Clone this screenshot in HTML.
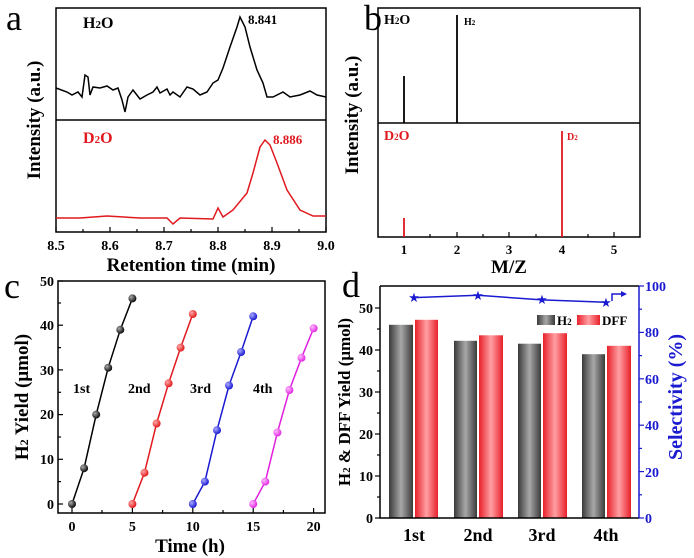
<!DOCTYPE html>
<html><head><meta charset="utf-8"><style>
html,body{margin:0;padding:0;background:#fff;}
svg{display:block;font-family:"Liberation Serif",serif;font-weight:bold;}
</style></head><body>
<svg width="694" height="558" viewBox="0 0 694 558" xmlns="http://www.w3.org/2000/svg">
<defs>
<linearGradient id="gg" x1="0" x2="1" y1="0" y2="0"><stop offset="0" stop-color="#3a3a3a"/><stop offset="0.5" stop-color="#a8a8a8"/><stop offset="1" stop-color="#3a3a3a"/></linearGradient>
<linearGradient id="rg" x1="0" x2="1" y1="0" y2="0"><stop offset="0" stop-color="#e8202a"/><stop offset="0.5" stop-color="#ffa0a4"/><stop offset="1" stop-color="#e8202a"/></linearGradient>
<radialGradient id="bk" cx="0.35" cy="0.35" r="0.7"><stop offset="0" stop-color="#aaa"/><stop offset="1" stop-color="#000"/></radialGradient>
<radialGradient id="rd" cx="0.35" cy="0.35" r="0.7"><stop offset="0" stop-color="#ffaaaa"/><stop offset="1" stop-color="#e01010"/></radialGradient>
<radialGradient id="bl" cx="0.35" cy="0.35" r="0.7"><stop offset="0" stop-color="#aaaaff"/><stop offset="1" stop-color="#1010d0"/></radialGradient>
<radialGradient id="mg" cx="0.35" cy="0.35" r="0.7"><stop offset="0" stop-color="#ffbbff"/><stop offset="1" stop-color="#e020e0"/></radialGradient>
</defs>

<!-- Panel a -->
<text x="6" y="30" font-size="36" font-weight="normal">a</text>
<rect x="56" y="8" width="270" height="224" fill="none" stroke="#000" stroke-width="1.5"/>
<line x1="56" y1="120" x2="326" y2="120" stroke="#000" stroke-width="1.5"/>
<g stroke="#000" stroke-width="1.2">
<line x1="56" y1="232" x2="56" y2="227"/><line x1="110" y1="232" x2="110" y2="227"/><line x1="164" y1="232" x2="164" y2="227"/><line x1="218" y1="232" x2="218" y2="227"/><line x1="272" y1="232" x2="272" y2="227"/><line x1="326" y1="232" x2="326" y2="227"/>
<line x1="83" y1="232" x2="83" y2="229"/><line x1="137" y1="232" x2="137" y2="229"/><line x1="191" y1="232" x2="191" y2="229"/><line x1="245" y1="232" x2="245" y2="229"/><line x1="299" y1="232" x2="299" y2="229"/>
</g>
<g font-size="14" text-anchor="middle">
<text x="56" y="250">8.5</text><text x="110" y="250">8.6</text><text x="164" y="250">8.7</text><text x="218" y="250">8.8</text><text x="272" y="250">8.9</text><text x="326" y="250">9.0</text>
</g>
<text x="191" y="271" font-size="19" text-anchor="middle">Retention time (min)</text>
<text transform="translate(40,120) rotate(-90)" font-size="19" text-anchor="middle">Intensity (a.u.)</text>
<polyline fill="none" stroke="#000" stroke-width="1.5" points="56,88 67,92 72,95 78,92 82,97 85,75 88,77 90,95 93,87 100,88 107,86 113,90 118,88 122,100 125,112 128,97 133,90 140,99 147,95 153,92 157,87 160,93 167,89 170,95 173,92 180,97 187,87 193,89 200,95 207,92 213,83 218,80 223,68 230,47 237,27 240,17 245,27 250,47 257,70 263,83 267,97 273,97 283,92 290,97 300,95 310,91 317,95 326,97"/>
<text x="83" y="28" font-size="16">H<tspan font-size="11">2</tspan>O</text>
<text x="248" y="24" font-size="13">8.841</text>
<polyline fill="none" stroke="#e0191f" stroke-width="1.5" points="56,218 80,218 107,216 140,218 167,218 173,224 180,218 213,219 218,208 223,217 233,210 247,193 253,173 260,147 265,140 270,145 277,163 287,190 300,210 313,216 326,216"/>
<text x="83" y="143" font-size="16" fill="#e0191f">D<tspan font-size="11">2</tspan>O</text>
<text x="273" y="144" font-size="13" fill="#e0191f">8.886</text>

<!-- Panel b -->
<text x="364" y="30" font-size="36" font-weight="normal">b</text>
<rect x="378" y="8" width="262" height="229" fill="none" stroke="#000" stroke-width="1.5"/>
<line x1="378" y1="123" x2="640" y2="123" stroke="#000" stroke-width="1.5"/>
<g stroke="#000" stroke-width="1.2">
<line x1="404" y1="237" x2="404" y2="232"/><line x1="457" y1="237" x2="457" y2="232"/><line x1="509" y1="237" x2="509" y2="232"/><line x1="562" y1="237" x2="562" y2="232"/><line x1="614" y1="237" x2="614" y2="232"/>
<line x1="430" y1="237" x2="430" y2="234"/><line x1="483" y1="237" x2="483" y2="234"/><line x1="536" y1="237" x2="536" y2="234"/><line x1="588" y1="237" x2="588" y2="234"/>
</g>
<g font-size="13" text-anchor="middle">
<text x="404" y="254">1</text><text x="457" y="254">2</text><text x="509" y="254">3</text><text x="562" y="254">4</text><text x="614" y="254">5</text>
</g>
<text x="509" y="273" font-size="19" text-anchor="middle">M/Z</text>
<text transform="translate(358,115) rotate(-90)" font-size="19" text-anchor="middle">Intensity (a.u.)</text>
<line x1="404" y1="123" x2="404" y2="76" stroke="#000" stroke-width="1.8"/>
<line x1="457" y1="123" x2="457" y2="15" stroke="#000" stroke-width="1.8"/>
<line x1="404" y1="237" x2="404" y2="218" stroke="#e0191f" stroke-width="1.8"/>
<line x1="562" y1="237" x2="562" y2="131" stroke="#e0191f" stroke-width="1.8"/>
<text x="384" y="24" font-size="14">H<tspan font-size="9">2</tspan>O</text>
<text x="464" y="25" font-size="10">H<tspan font-size="7">2</tspan></text>
<text x="384" y="140" font-size="14" fill="#e0191f">D<tspan font-size="9">2</tspan>O</text>
<text x="567" y="140" font-size="10" fill="#e0191f">D<tspan font-size="7">2</tspan></text>

<!-- Panel c -->
<text x="4" y="298" font-size="36" font-weight="normal">c</text>
<rect x="58" y="281" width="267" height="232" fill="none" stroke="#000" stroke-width="1.5"/>
<g stroke="#000" stroke-width="1.2">
<line x1="58" y1="504" x2="63" y2="504"/><line x1="58" y1="459.3" x2="63" y2="459.3"/><line x1="58" y1="414.6" x2="63" y2="414.6"/><line x1="58" y1="369.9" x2="63" y2="369.9"/><line x1="58" y1="325.2" x2="63" y2="325.2"/><line x1="58" y1="281" x2="63" y2="281"/>
<line x1="58" y1="481.6" x2="61" y2="481.6"/><line x1="58" y1="437" x2="61" y2="437"/><line x1="58" y1="392.3" x2="61" y2="392.3"/><line x1="58" y1="347.6" x2="61" y2="347.6"/><line x1="58" y1="303" x2="61" y2="303"/>
<line x1="72" y1="513" x2="72" y2="508"/><line x1="132.4" y1="513" x2="132.4" y2="508"/><line x1="192.8" y1="513" x2="192.8" y2="508"/><line x1="253.2" y1="513" x2="253.2" y2="508"/><line x1="313.6" y1="513" x2="313.6" y2="508"/>
<line x1="102" y1="513" x2="102" y2="510"/><line x1="162.6" y1="513" x2="162.6" y2="510"/><line x1="223" y1="513" x2="223" y2="510"/><line x1="283.4" y1="513" x2="283.4" y2="510"/>
</g>
<g font-size="14" text-anchor="end">
<text x="54" y="509">0</text><text x="54" y="464">10</text><text x="54" y="419">20</text><text x="54" y="375">30</text><text x="54" y="330">40</text><text x="54" y="286">50</text>
</g>
<g font-size="14" text-anchor="middle">
<text x="72" y="531">0</text><text x="132.4" y="531">5</text><text x="192.8" y="531">10</text><text x="253.2" y="531">15</text><text x="313.6" y="531">20</text>
</g>
<text x="190" y="552" font-size="19" text-anchor="middle">Time (h)</text>
<text transform="translate(28,397) rotate(-90)" font-size="19" text-anchor="middle">H<tspan font-size="12">2</tspan> Yield (μmol)</text>
<polyline fill="none" stroke="#000" stroke-width="1.5" points="72,504 84.1,468.2 96.2,414.6 108.2,367.7 120.3,329.7 132.4,298.4"/>
<polyline fill="none" stroke="#e0191f" stroke-width="1.5" points="132.4,504 144.5,472.7 156.6,423.5 168.6,383.3 180.6,347.6 192.8,314"/>
<polyline fill="none" stroke="#1a1ad0" stroke-width="1.5" points="192.8,504 204.9,481.6 217,430.2 229,385.5 241.1,352 253.2,316.3"/>
<polyline fill="none" stroke="#e020e0" stroke-width="1.5" points="253.2,504 265.3,481.6 277.4,432.5 289.4,390 301.5,357.8 313.6,328.3"/>
<g fill="url(#bk)"><circle cx="72" cy="504" r="4"/><circle cx="84.1" cy="468.2" r="4"/><circle cx="96.2" cy="414.6" r="4"/><circle cx="108.2" cy="367.7" r="4"/><circle cx="120.3" cy="329.7" r="4"/><circle cx="132.4" cy="298.4" r="4"/></g>
<g fill="url(#rd)"><circle cx="132.4" cy="504" r="4"/><circle cx="144.5" cy="472.7" r="4"/><circle cx="156.6" cy="423.5" r="4"/><circle cx="168.6" cy="383.3" r="4"/><circle cx="180.6" cy="347.6" r="4"/><circle cx="192.8" cy="314" r="4"/></g>
<g fill="url(#bl)"><circle cx="192.8" cy="504" r="4"/><circle cx="204.9" cy="481.6" r="4"/><circle cx="217" cy="430.2" r="4"/><circle cx="229" cy="385.5" r="4"/><circle cx="241.1" cy="352" r="4"/><circle cx="253.2" cy="316.3" r="4"/></g>
<g fill="url(#mg)"><circle cx="253.2" cy="504" r="4"/><circle cx="265.3" cy="481.6" r="4"/><circle cx="277.4" cy="432.5" r="4"/><circle cx="289.4" cy="390" r="4"/><circle cx="301.5" cy="357.8" r="4"/><circle cx="313.6" cy="328.3" r="4"/></g>
<g font-size="14">
<text x="73" y="393">1st</text><text x="128" y="393">2nd</text><text x="190" y="393">3rd</text><text x="253" y="393">4th</text>
</g>

<!-- Panel d -->
<text x="342" y="297" font-size="36" font-weight="normal">d</text>
<g fill="url(#gg)">
<rect x="389" y="324.8" width="24" height="193.2"/><rect x="454" y="340.8" width="23" height="177.2"/><rect x="518" y="343.7" width="23" height="174.3"/><rect x="582" y="354.2" width="23" height="163.8"/>
</g>
<g fill="url(#rg)">
<rect x="415" y="319.8" width="23" height="198.2"/><rect x="479" y="335.3" width="24" height="182.7"/><rect x="543" y="333.2" width="24" height="184.8"/><rect x="607" y="345.8" width="24" height="172.2"/>
</g>
<path d="M380,286 L639,286 M380,286 L380,518 L639,518" fill="none" stroke="#000" stroke-width="1.5"/>
<line x1="639" y1="286" x2="639" y2="518" stroke="#1a1ad0" stroke-width="1.5"/>
<g stroke="#000" stroke-width="1.2">
<line x1="375" y1="518" x2="380" y2="518"/><line x1="375" y1="476" x2="380" y2="476"/><line x1="375" y1="434" x2="380" y2="434"/><line x1="375" y1="392" x2="380" y2="392"/><line x1="375" y1="350" x2="380" y2="350"/><line x1="375" y1="308" x2="380" y2="308"/>
<line x1="377" y1="497" x2="380" y2="497"/><line x1="377" y1="455" x2="380" y2="455"/><line x1="377" y1="413" x2="380" y2="413"/><line x1="377" y1="371" x2="380" y2="371"/><line x1="377" y1="329" x2="380" y2="329"/>
</g>
<g stroke="#1a1ad0" stroke-width="1.2">
<line x1="639" y1="518" x2="644" y2="518"/><line x1="639" y1="471.6" x2="644" y2="471.6"/><line x1="639" y1="425.2" x2="644" y2="425.2"/><line x1="639" y1="378.8" x2="644" y2="378.8"/><line x1="639" y1="332.4" x2="644" y2="332.4"/><line x1="639" y1="286" x2="644" y2="286"/>
<line x1="639" y1="494.8" x2="642" y2="494.8"/><line x1="639" y1="448.4" x2="642" y2="448.4"/><line x1="639" y1="402" x2="642" y2="402"/><line x1="639" y1="355.6" x2="642" y2="355.6"/><line x1="639" y1="309.2" x2="642" y2="309.2"/>
</g>
<g font-size="14" text-anchor="end">
<text x="373" y="523">0</text><text x="373" y="481">10</text><text x="373" y="439">20</text><text x="373" y="397">30</text><text x="373" y="355">40</text><text x="373" y="313">50</text>
</g>
<g font-size="14" fill="#1a1ad0">
<text x="645" y="523">0</text><text x="645" y="477">20</text><text x="645" y="430">40</text><text x="645" y="384">60</text><text x="645" y="337">80</text><text x="645" y="291">100</text>
</g>
<g font-size="18" text-anchor="middle">
<text x="414" y="541">1st</text><text x="478" y="541">2nd</text><text x="542" y="541">3rd</text><text x="606" y="541">4th</text>
</g>
<text transform="translate(350,402) rotate(-90)" font-size="17" text-anchor="middle">H<tspan font-size="11">2</tspan> &amp; DFF Yield (μmol)</text>
<text transform="translate(682,397) rotate(-90)" font-size="20" text-anchor="middle" fill="#1a1ad0">Selectivity (%)</text>
<polyline fill="none" stroke="#1a1ad0" stroke-width="1.5" points="414,297.6 478,295.3 542,299.9 606,302.2"/>
<path d="M612,301 L612,294 L624,294" fill="none" stroke="#1a1ad0" stroke-width="1.5"/>
<path d="M621,291 L627,294 L621,297 Z" fill="#1a1ad0"/>
<g fill="#1a1ad0" font-size="13" text-anchor="middle" font-family="DejaVu Sans">
<text x="414" y="302">★</text><text x="478" y="300">★</text><text x="542" y="304">★</text><text x="606" y="307">★</text>
</g>
<rect x="537" y="315" width="18" height="10" fill="url(#gg)"/>
<text x="557" y="325" font-size="13">H<tspan font-size="9">2</tspan></text>
<rect x="577" y="315" width="23" height="10" fill="url(#rg)"/>
<text x="602" y="325" font-size="13">DFF</text>
</svg>
</body></html>
